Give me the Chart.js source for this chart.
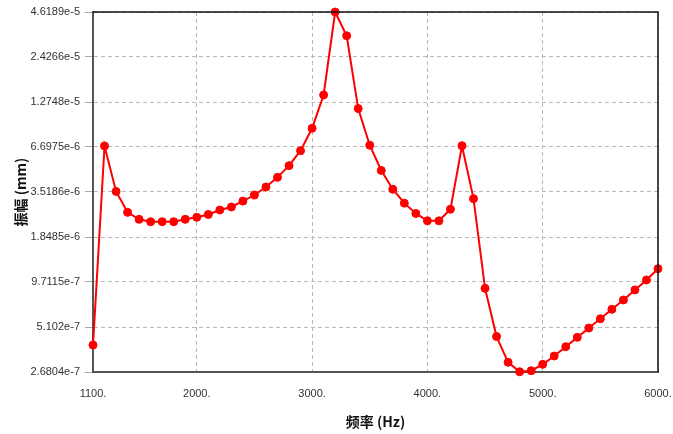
<!DOCTYPE html>
<html>
<head>
<meta charset="utf-8">
<script src="https://cdn.jsdelivr.net/npm/chart.js@4/dist/chart.umd.min.js"></script>
<style>
  body { margin: 0; background: #fff; }
  #wrap { width: 673px; height: 434px; position: relative; }
</style>
</head>
<body>
<div id="wrap"><canvas id="ampChart"></canvas></div>
<script>
// frequency (Hz), one point every 100 Hz
const freqs = [];
for (let f = 1100; f <= 6000; f += 100) freqs.push(f);

// amplitude (mm)
const amplitude = [
    3.94e-7, 6.8e-6, 3.55e-6, 2.63e-6, 2.38e-6, 2.30e-6, 2.30e-6, 2.30e-6, 2.38e-6, 2.45e-6,
    2.55e-6, 2.72e-6, 2.84e-6, 3.09e-6, 3.37e-6, 3.78e-6, 4.34e-6, 5.13e-6, 6.35e-6, 8.75e-6,
    1.41e-5, 4.6189e-5, 3.29e-5, 1.16e-5, 6.87e-6, 4.79e-6, 3.66e-6, 3.00e-6, 2.59e-6, 2.33e-6,
    2.33e-6, 2.75e-6, 6.82e-6, 3.20e-6, 8.87e-7, 4.45e-7, 3.08e-7, 2.69e-7, 2.73e-7, 2.99e-7,
    3.37e-7, 3.85e-7, 4.40e-7, 5.03e-7, 5.74e-7, 6.57e-7, 7.51e-7, 8.67e-7, 1.0e-6, 1.175e-6
];

const yTickValues = [4.6189e-5, 2.4266e-5, 1.2748e-5, 6.6975e-6, 3.5186e-6, 1.8485e-6, 9.7115e-7, 5.102e-7, 2.6804e-7];
const yTickLabels = ['4.6189e-5', '2.4266e-5', '1.2748e-5', '6.6975e-6', '3.5186e-6', '1.8485e-6', '9.7115e-7', '5.102e-7', '2.6804e-7'];
const xTickValues = [1100, 2000, 3000, 4000, 5000, 6000];
const xTickLabels = ['1100.', '2000.', '3000.', '4000.', '5000.', '6000.'];

// top and right edges of the plot frame
const frame = {
    id: 'frame',
    afterDraw(chart) {
        const {ctx, chartArea: a} = chart;
        ctx.save();
        ctx.strokeStyle = '#111';
        ctx.lineWidth = 1.5;
        ctx.beginPath();
        ctx.moveTo(a.left, a.top);
        ctx.lineTo(a.right, a.top);
        ctx.lineTo(a.right, a.bottom);
        ctx.stroke();
        ctx.restore();
    }
};

new Chart(document.getElementById('ampChart'), {
    type: 'line',
    data: {
        datasets: [{
            data: freqs.map((f, i) => ({x: f, y: amplitude[i]})),
            borderColor: '#ff0000',
            backgroundColor: '#ff0000',
            borderWidth: 2,
            pointRadius: 4,
            pointHoverRadius: 4,
            pointBorderWidth: 1,
            pointStyle: 'circle',
            tension: 0,
            clip: false
        }]
    },
    options: {
        responsive: true,
        maintainAspectRatio: false,
        animation: false,
        layout: { padding: { top: 12, right: 15, left: 0, bottom: 0 } },
        plugins: { legend: { display: false }, tooltip: { enabled: false } },
        scales: {
            x: {
                type: 'linear',
                min: 1100,
                max: 6000,
                afterBuildTicks: scale => { scale.ticks = xTickValues.map(v => ({value: v})); },
                afterFit: scale => {
                    scale.height = 62;
                    scale.paddingLeft = 0;
                    scale.paddingRight = 0;
                },
                ticks: {
                    callback: (v) => xTickLabels[xTickValues.indexOf(v)],
                    color: '#333',
                    font: { family: 'Liberation Sans', size: 11 },
                    padding: 15,
                    maxRotation: 0
                },
                grid: {
                    color: '#b8b8b8',
                    drawTicks: false,
                    tickBorderDash: []
                },
                border: { color: '#555', width: 2, dash: [4, 3] },
                title: {
                    display: true,
                    text: '频率 (Hz)',
                    color: '#111',
                    font: { family: 'Noto Sans CJK SC', size: 14, weight: 'bold' },
                    padding: { top: 0, bottom: 4 }
                }
            },
            y: {
                type: 'logarithmic',
                min: 2.6804e-7,
                max: 4.6189e-5,
                afterBuildTicks: scale => { scale.ticks = yTickValues.map(v => ({value: v})); },
                afterFit: scale => {
                    scale.width = 93;
                    scale.paddingTop = 0;
                    scale.paddingBottom = 0;
                },
                ticks: {
                    callback: (v) => yTickLabels[yTickValues.indexOf(v)],
                    color: '#333',
                    font: { family: 'Liberation Sans', size: 11 },
                    padding: 5
                },
                grid: {
                    color: '#b8b8b8',
                    tickLength: 8,
                    tickColor: '#aaa',
                    tickBorderDash: []
                },
                border: { color: '#555', width: 2, dash: [4, 3] },
                title: {
                    display: true,
                    text: '振幅 (mm)',
                    color: '#111',
                    font: { family: 'Noto Sans CJK SC', size: 14, weight: 'bold' },
                    padding: { top: 12, bottom: 0 }
                }
            }
        }
    },
    plugins: [frame]
});
</script>
</body>
</html>
